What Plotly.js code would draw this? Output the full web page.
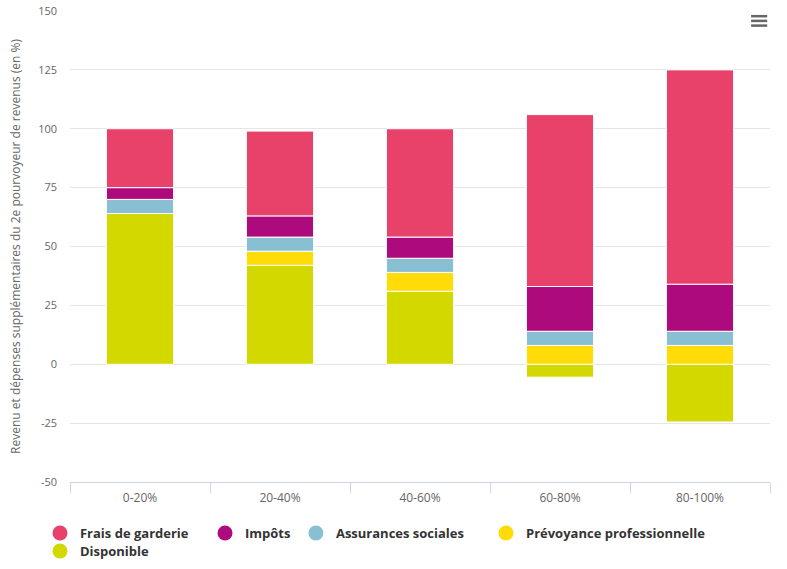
<!DOCTYPE html>
<html>
<head>
<meta charset="utf-8">
<script src="https://cdn.plot.ly/plotly-3.0.1.min.js"></script>
<style>html,body{margin:0;padding:0;background:#fff}#chart{width:787px;height:569px}</style>
</head>
<body>
<div id="chart"></div>
<script>
const categories = ['0-20%', '20-40%', '40-60%', '60-80%', '80-100%'];
const disponible = [64, 42, 31, -5.5, -24.5];
const prevoyance = [0, 6, 8, 8, 8];
const assurances = [6, 6, 6, 6, 6];
const impots = [5, 9, 9, 19, 20];
const frais = [25, 36, 46, 73, 91];
const yTickVals = [-50, -25, 0, 25, 50, 75, 100, 125, 150];
const yTickText = ['-50', '-25', '0', '25', '50', '75', '100', '125', '150'];

const series = [
  {name: 'Frais de garderie', data: frais, color: '#e8416a', legend: 'legend'},
  {name: 'Impôts', data: impots, color: '#ad0a7e', legend: 'legend2'},
  {name: 'Assurances sociales', data: assurances, color: '#88bfd3', legend: 'legend3'},
  {name: 'Prévoyance professionnelle', data: prevoyance, color: '#ffdc08', legend: 'legend4'},
  {name: 'Disponible', data: disponible, color: '#d2d800', legend: 'legend5'}
];

const traces = [];
series.slice().reverse().forEach(s => {
  traces.push({
    type: 'bar', x: categories, y: s.data, name: s.name, legendgroup: s.name,
    showlegend: false, marker: {color: s.color, line: {color: '#ffffff', width: 1}},
    hoverinfo: 'x+y+name'
  });
});
series.forEach(s => {
  traces.push({
    type: 'scatter', mode: 'markers', x: [null], y: [null], name: s.name, legendgroup: s.name,
    legend: s.legend, marker: {color: s.color, size: 15, symbol: 'circle'}, showlegend: true
  });
});

const legFont = {size: 13, color: '#333333', family: 'Open Sans, sans-serif', weight: 'bold'};
function leg(x, y) {
  return {orientation: 'h', xref: 'container', yref: 'container', x: x, xanchor: 'left', y: y, yanchor: 'top',
          font: legFont, itemwidth: 30, bgcolor: 'rgba(0,0,0,0)'};
}

const layout = {
  width: 787, height: 569,
  margin: {l: 70, r: 17, t: 11, b: 87, autoexpand: false},
  paper_bgcolor: '#ffffff', plot_bgcolor: '#ffffff',
  barmode: 'relative', bargap: 0.52,
  font: {family: 'Open Sans, sans-serif', color: '#666666'},
  showlegend: true,
  legend: leg(0.0508, 0.0896),
  legend2: leg(0.2605, 0.0896),
  legend3: leg(0.376, 0.0896),
  legend4: leg(0.6175, 0.0896),
  legend5: leg(0.0508, 0.058),
  xaxis: {
    type: 'category', showgrid: false, zeroline: false,
    showline: true, linecolor: '#ccd6eb', linewidth: 1,
    ticks: 'outside', tickson: 'boundaries', ticklen: 10, tickcolor: '#ccd6eb',
    tickfont: {size: 12, color: '#666666'}, ticklabelstandoff: 5, fixedrange: true
  },
  yaxis: {
    range: [-50, 150], tickvals: yTickVals, ticktext: yTickText,
    showgrid: true, gridcolor: '#e6e6e6', zeroline: false, showline: false,
    tickfont: {size: 11, color: '#666666'}, ticklabelstandoff: 12,
    title: {text: 'Revenu et dépenses supplémentaires du 2e pourvoyeur de revenus (en %)', font: {size: 12, color: '#666666'}, standoff: 14},
    fixedrange: true
  },
  shapes: [0.989, 0.979, 0.969].map(y => ({
    type: 'line', xref: 'paper', yref: 'paper', x0: 0.973, x1: 0.996, y0: y, y1: y,
    line: {color: '#666666', width: 2.5}
  }))
};

Plotly.newPlot('chart', traces, layout, {displayModeBar: false, responsive: false});
</script>
</body>
</html>
